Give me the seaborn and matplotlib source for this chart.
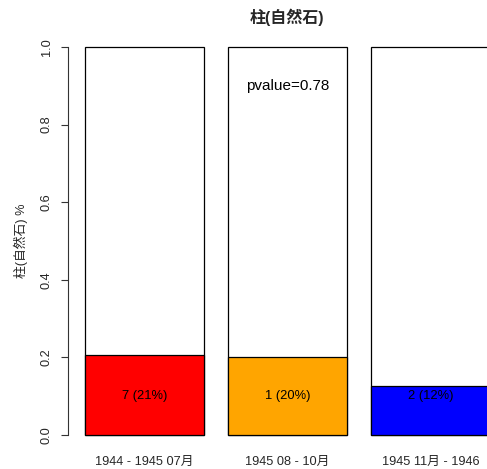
import matplotlib
matplotlib.use("Agg")
import matplotlib.pyplot as plt
import seaborn as sns
import pandas as pd

categories = ["1944 - 1945 07月", "1945 08 - 10月", "1945 11月 - 1946"]
proportions = [0.206, 0.200, 0.125]
bar_labels = ["7 (21%)", "1 (20%)", "2 (12%)"]
bar_colors = ["#FF0000", "#FFA500", "#0000FF"]
totals = [1.0, 1.0, 1.0]
title = "柱(自然石)"
ylabel = "柱(自然石) %"
pvalue_text = "pvalue=0.78"
yticks = [0.0, 0.2, 0.4, 0.6, 0.8, 1.0]

sns.set_style("white")
plt.rcParams['font.family'] = ['Liberation Sans', 'Noto Sans CJK JP', 'DejaVu Sans']

df = pd.DataFrame({"cat": categories, "prop": proportions, "total": totals})

fig = plt.figure(figsize=(4.87, 4.69), dpi=100)
ax = fig.add_axes([68/487, (469-450.5)/469, 1 - 68/487, (450.5-31.5)/469])

sns.barplot(data=df, x="cat", y="total", color="white", edgecolor="black",
            linewidth=0.9, width=0.833, ax=ax, saturation=1)
sns.barplot(data=df, x="cat", y="prop", hue="cat", palette=bar_colors,
            edgecolor="black", linewidth=0.9, width=0.833, ax=ax,
            saturation=1, legend=False)

for i, t in enumerate(bar_labels):
    ax.text(i, 0.1, t, ha="center", va="center", fontsize=9.3, color="black")
ax.text(1, 0.9, pvalue_text, ha="center", va="center", fontsize=11, color="black")

ax.set_xlim(-0.535, 2.395)
ax.set_ylim(-0.04, 1.04)
for s in ["top", "right", "bottom"]:
    ax.spines[s].set_visible(False)
ax.spines["left"].set_bounds(0, 1)
ax.spines["left"].set_color("#333333")
ax.spines["left"].set_linewidth(0.8)
ax.set_yticks(yticks)
ax.set_yticklabels([f"{v:.1f}" for v in yticks], rotation=90, va="center", fontsize=9.2)
ax.tick_params(axis="y", left=True, length=5, width=0.8, color="#333333", pad=6)
ax.tick_params(axis="x", bottom=False, length=0, pad=4, labelsize=9.2)
ax.set_xlabel("")
ax.set_ylabel(ylabel, fontsize=9.2, labelpad=9)
fig.text(287/487, 1 - 17/469, title, ha="center", va="center", fontsize=11.5, fontweight="bold")

fig.savefig("out.png", dpi=100)
